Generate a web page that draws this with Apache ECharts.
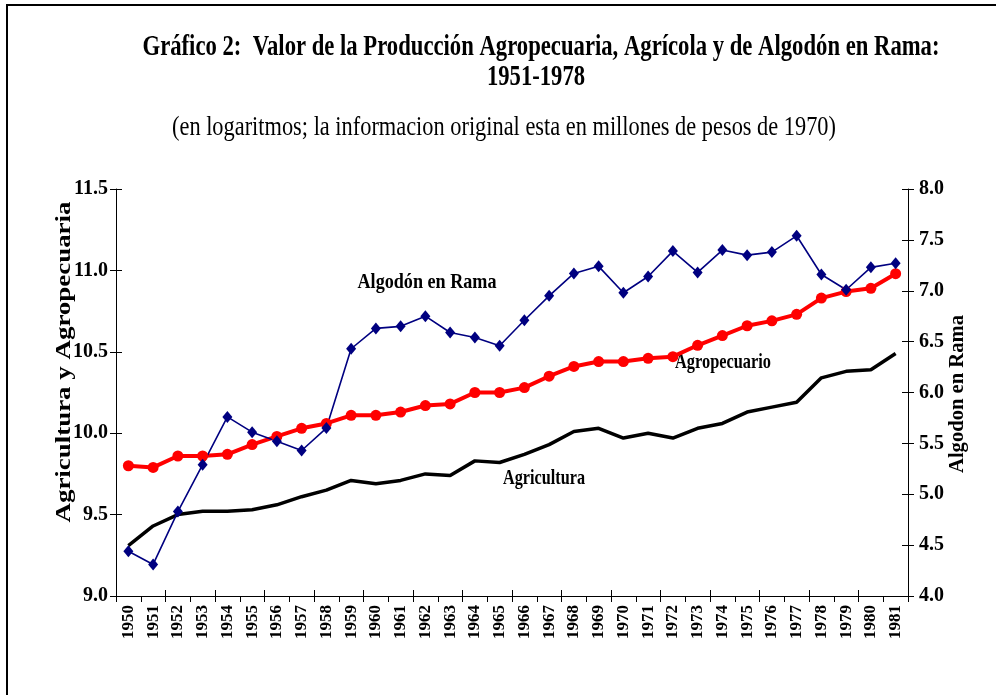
<!DOCTYPE html>
<html>
<head>
<meta charset="utf-8">
<script src="https://cdn.jsdelivr.net/npm/echarts@6/dist/echarts.min.js"></script>
<style>html,body{margin:0;padding:0;background:#fff;}#c{width:996px;height:695px;}</style>
</head>
<body>
<div id="c"></div>
<script>
var years = ['1950','1951','1952','1953','1954','1955','1956','1957','1958','1959','1960','1961','1962','1963','1964','1965','1966','1967','1968','1969','1970','1971','1972','1973','1974','1975','1976','1977','1978','1979','1980','1981'];
var agropecuario = [9.80,9.79,9.86,9.86,9.87,9.93,9.98,10.03,10.06,10.11,10.11,10.13,10.17,10.18,10.25,10.25,10.28,10.35,10.41,10.44,10.44,10.46,10.47,10.54,10.60,10.66,10.69,10.73,10.83,10.87,10.89,10.98];
var agricultura = [9.31,9.43,9.50,9.52,9.52,9.53,9.56,9.61,9.65,9.71,9.69,9.71,9.75,9.74,9.83,9.82,9.87,9.93,10.01,10.03,9.97,10.00,9.97,10.03,10.06,10.13,10.16,10.19,10.34,10.38,10.39,10.49];
var algodon = [4.44,4.31,4.83,5.29,5.76,5.61,5.52,5.43,5.65,6.43,6.63,6.65,6.75,6.59,6.54,6.46,6.71,6.95,7.17,7.24,6.98,7.14,7.39,7.18,7.40,7.35,7.38,7.54,7.16,7.01,7.23,7.27];
var leftTicks = {min: 9.0, max: 11.5, interval: 0.5};
var rightTicks = {min: 4.0, max: 8.0, interval: 0.5};

var titleLine1 = 'Gráfico 2:  Valor de la Producción Agropecuaria, Agrícola y de Algodón en Rama:';
var titleLine2 = '1951-1978';
var subtitle = '(en logaritmos; la informacion original esta en millones de pesos de 1970)';
var leftName = 'Agricultura y Agropecuaria';
var rightName = 'Algodon en Rama';

var SERIF = '"Liberation Serif", "Times New Roman", serif';
var cv = document.createElement('canvas').getContext('2d');
function fit(text, font, target) {
  cv.font = font;
  var w = cv.measureText(text).width;
  return w > 0 ? target / w : 1;
}
function txt(text, weight, size, cx, cy, width, rot) {
  var font = weight + ' ' + size + 'px ' + SERIF;
  return {
    type: 'text', x: cx, y: cy, rotation: rot || 0,
    scaleX: fit(text, font, width), scaleY: 1, silent: true,
    style: {text: text, font: font, fill: '#000', align: 'center', verticalAlign: 'middle'}
  };
}

var chart = echarts.init(document.getElementById('c'), null, {renderer: 'canvas'});
var axisLbl = {color: '#000', fontFamily: SERIF, fontWeight: 'bold', fontSize: 20};
function yMain(t, pos, margin) {
  return {
    type: 'value', position: pos, min: t.min, max: t.max, interval: t.interval,
    axisLine: {show: true, lineStyle: {color: '#000', width: 1}},
    axisTick: {show: true, inside: false, length: 6, lineStyle: {color: '#000'}},
    axisLabel: Object.assign({margin: margin, formatter: function (v) { return v.toFixed(1); }}, axisLbl),
    splitLine: {show: false}
  };
}
function yTicks(t, pos) {
  return {
    type: 'value', position: pos, min: t.min, max: t.max, interval: t.interval,
    axisLine: {show: false},
    axisTick: {show: true, inside: true, length: 6, lineStyle: {color: '#000'}},
    axisLabel: {show: false}, splitLine: {show: false}
  };
}

chart.setOption({
  animation: false,
  backgroundColor: '#fff',
  grid: {left: 116, right: 88, top: 189, bottom: 99, containLabel: false},
  xAxis: [{
    type: 'category', data: years, boundaryGap: true,
    axisLine: {show: true, lineStyle: {color: '#000', width: 1}},
    axisTick: {show: true, inside: false, length: 6, alignWithLabel: false, lineStyle: {color: '#000'}},
    axisLabel: Object.assign({}, axisLbl, {rotate: 90, fontSize: 17, margin: 9, interval: 0}),
    splitLine: {show: false}
  }, {
    type: 'category', data: years, boundaryGap: true, position: 'bottom',
    axisLine: {show: false},
    axisTick: {show: true, inside: true, length: 6, lineStyle: {color: '#000'}},
    axisLabel: {show: false}, splitLine: {show: false}
  }],
  yAxis: [yMain(leftTicks, 'left', 8), yMain(rightTicks, 'right', 11), yTicks(leftTicks, 'left'), yTicks(rightTicks, 'right')],
  series: [{
    name: 'Agropecuario', type: 'line', data: agropecuario, xAxisIndex: 0, yAxisIndex: 0,
    symbol: 'circle', symbolSize: 11, showSymbol: true,
    lineStyle: {color: '#ff0000', width: 4}, itemStyle: {color: '#ff0000'}
  }, {
    name: 'Agricultura', type: 'line', data: agricultura, xAxisIndex: 0, yAxisIndex: 0,
    symbol: 'none', lineStyle: {color: '#000', width: 3.5}
  }, {
    name: 'Algodón en Rama', type: 'line', data: algodon, xAxisIndex: 0, yAxisIndex: 1,
    symbol: 'diamond', symbolSize: [10, 12],
    lineStyle: {color: '#000080', width: 1.6}, itemStyle: {color: '#000080'}
  }],
  graphic: [
    {type: 'rect', silent: true, shape: {x: 7, y: 5, width: 1000, height: 700}, style: {fill: 'none', stroke: '#000', lineWidth: 2}},
    txt(titleLine1, 'bold', 30, 541, 47, 797),
    txt(titleLine2, 'bold', 30, 536, 77, 98),
    txt(subtitle, 'normal', 27, 504, 128, 664),
    txt(leftName, 'bold', 22, 64, 362, 321, Math.PI / 2),
    txt(rightName, 'bold', 21, 958, 394, 158, Math.PI / 2),
    txt('Algodón en Rama', 'bold', 22, 427, 282, 139),
    txt('Agropecuario', 'bold', 21, 723, 363, 96),
    txt('Agricultura', 'bold', 21, 544, 479, 82)
  ]
});
</script>
</body>
</html>
